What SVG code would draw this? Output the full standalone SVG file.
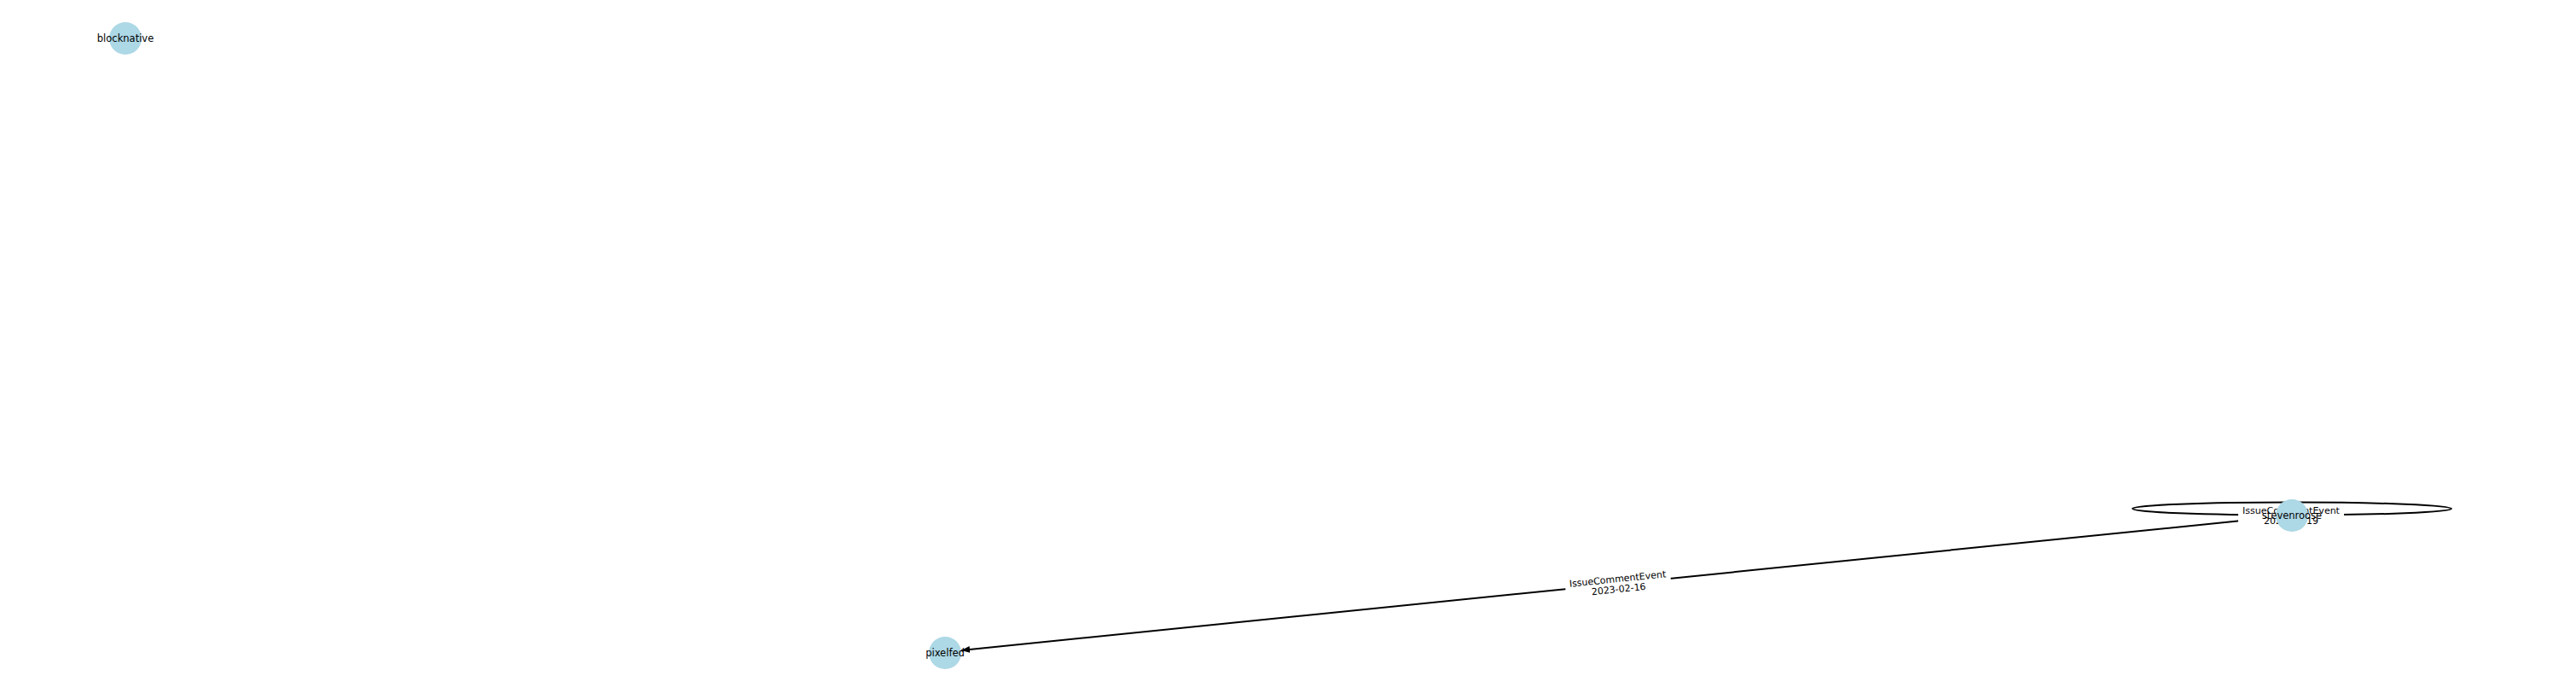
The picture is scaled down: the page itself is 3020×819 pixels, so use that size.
<svg xmlns="http://www.w3.org/2000/svg" width="3020" height="819" viewBox="0 0 3020 819">
<style>
.node circle{fill:#add8e6}
.node text{font-family:"DejaVu Sans",sans-serif;font-size:11.5px;fill:#000;text-anchor:middle;dominant-baseline:central}
.edge{stroke:#000;stroke-width:2;fill:none}
.elabel{font-family:"DejaVu Sans",sans-serif;font-size:11px;fill:#000;text-anchor:middle}
</style>
<defs>
<marker id="arr" viewBox="0 0 10 8" refX="10" refY="4" markerWidth="10" markerHeight="8" markerUnits="userSpaceOnUse" orient="auto">
<path d="M0,0 L10,4 L0,8 z" fill="#000"/>
</marker>
</defs>
<rect width="3020" height="819" fill="#fff"/>
<g id="connectors">
<ellipse class="edge" cx="2687" cy="596" rx="187" ry="7.5"/>
<line class="edge" x1="2687" y1="604" x2="1127" y2="762" marker-end="url(#arr)"/>
<g transform="translate(1897,684) rotate(-5.8)">
<rect x="-62" y="-14" width="124" height="28" fill="#fff"/>
<text class="elabel" x="0" y="-2">IssueCommentEvent</text>
<text class="elabel" x="0" y="10">2023-02-16</text>
</g>
<g transform="translate(2686,604)">
<rect x="-62" y="-14" width="124" height="28" fill="#fff"/>
<text class="elabel" x="0" y="-2">IssueCommentEvent</text>
<text class="elabel" x="0" y="10">2023-02-19</text>
</g>
</g>
<g id="node-blocknative" class="node">
<circle cx="147" cy="45" r="19"/>
<text x="147" y="45">blocknative</text>
</g>
<g id="node-pixelfed" class="node">
<circle cx="1108" cy="765" r="19"/>
<text x="1108" y="765">pixelfed</text>
</g>
<g id="node-stevenroose" class="node">
<circle cx="2687" cy="604" r="19"/>
<text x="2687" y="604">stevenroose</text>
</g>
</svg>
